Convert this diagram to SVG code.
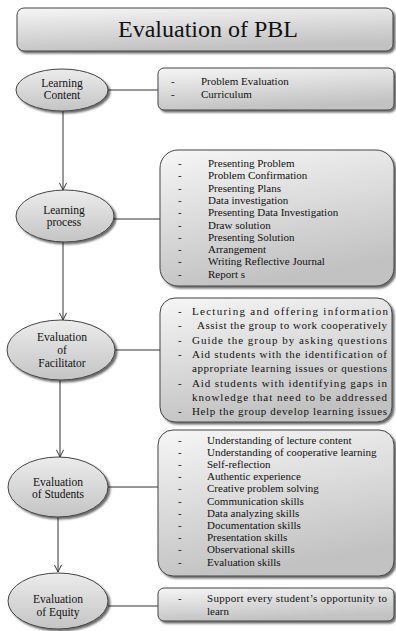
<svg xmlns="http://www.w3.org/2000/svg" width="396" height="631" viewBox="0 0 396 631">
<defs>
<linearGradient id="gb" x1="0" y1="0" x2="0.3" y2="1">
<stop offset="0" stop-color="#f6f6f6"/>
<stop offset="1" stop-color="#c2c2c2"/>
</linearGradient>
<linearGradient id="ge" x1="0" y1="0" x2="0" y2="1">
<stop offset="0" stop-color="#ececec"/>
<stop offset="1" stop-color="#c4c4c4"/>
</linearGradient>
<filter id="sh" x="-10%" y="-10%" width="125%" height="130%">
<feGaussianBlur in="SourceAlpha" stdDeviation="1.2"/>
<feOffset dx="2" dy="2" result="b"/>
<feComponentTransfer><feFuncA type="linear" slope="0.6"/></feComponentTransfer>
<feMerge><feMergeNode/><feMergeNode in="SourceGraphic"/></feMerge>
</filter>
<marker id="ar" viewBox="0 0 10 10" refX="9" refY="5" markerWidth="9" markerHeight="9" orient="auto" markerUnits="userSpaceOnUse">
<path d="M1,1 L9,5 L1,9" fill="none" stroke="#333" stroke-width="1.1"/>
</marker>
</defs>
<style>
.box{fill:url(#gb);stroke:#444;stroke-width:1;filter:url(#sh)}
.ell{fill:url(#ge);stroke:#444;stroke-width:1;filter:url(#sh)}
.t{font-family:"Liberation Serif","Times New Roman",serif;font-size:11px;fill:#111}
.e{font-size:11.5px}
.c{text-anchor:middle}
.ln{stroke:#333;stroke-width:1;fill:none}
</style>
<rect width="396" height="631" fill="#fff"/>

<g id="title">
<rect class="box" x="17" y="8" width="376" height="43" rx="7"/>
<text class="t c" x="208" y="37" style="font-size:24px">Evaluation of PBL</text>
</g>

<g id="connectors">
<line class="ln" x1="108" y1="90" x2="158" y2="90"/>
<line class="ln" x1="63" y1="111" x2="63" y2="190" marker-end="url(#ar)"/>
<line class="ln" x1="114" y1="219" x2="160" y2="219"/>
<line class="ln" x1="63" y1="242" x2="63" y2="320" marker-end="url(#ar)"/>
<line class="ln" x1="115" y1="350" x2="160" y2="350"/>
<line class="ln" x1="60" y1="380" x2="60" y2="457" marker-end="url(#ar)"/>
<line class="ln" x1="108" y1="487" x2="158" y2="487"/>
<line class="ln" x1="58" y1="517" x2="58" y2="572" marker-end="url(#ar)"/>
<line class="ln" x1="108" y1="606" x2="158" y2="606"/>
</g>

<g id="learning-content">
<ellipse class="ell" cx="62" cy="90" rx="46" ry="21"/>
<text class="t e c" x="62" y="87">Learning</text>
<text class="t e c" x="62" y="99">Content</text>
</g>
<g id="learning-content-items">
<rect class="box" x="158" y="68" width="236" height="42" rx="6"/>
<text class="t" x="171" y="85">-</text><text class="t" x="201" y="85">Problem Evaluation</text>
<text class="t" x="171" y="98">-</text><text class="t" x="201" y="98">Curriculum</text>
</g>

<g id="learning-process">
<ellipse class="ell" cx="65" cy="216" rx="49" ry="26"/>
<text class="t e c" x="64" y="214">Learning</text>
<text class="t e c" x="64" y="226">process</text>
</g>
<g id="learning-process-items">
<rect class="box" x="160" y="150" width="234" height="136" rx="18"/>
<g class="t">
<text x="178" y="167">-</text><text x="208" y="167">Presenting Problem</text>
<text x="178" y="179.3">-</text><text x="208" y="179.3">Problem Confirmation</text>
<text x="178" y="191.6">-</text><text x="208" y="191.6">Presenting Plans</text>
<text x="178" y="203.9">-</text><text x="208" y="203.9">Data investigation</text>
<text x="178" y="216.2">-</text><text x="208" y="216.2">Presenting Data Investigation</text>
<text x="178" y="228.5">-</text><text x="208" y="228.5">Draw solution</text>
<text x="178" y="240.8">-</text><text x="208" y="240.8">Presenting Solution</text>
<text x="178" y="253.1">-</text><text x="208" y="253.1">Arrangement</text>
<text x="178" y="265.4">-</text><text x="208" y="265.4">Writing Reflective Journal</text>
<text x="178" y="277.7">-</text><text x="208" y="277.7">Report s</text>
</g>
</g>

<g id="facilitator">
<ellipse class="ell" cx="61" cy="350" rx="54" ry="30"/>
<text class="t e c" x="62" y="341">Evaluation</text>
<text class="t e c" x="62" y="354">of</text>
<text class="t e c" x="62" y="367">Facilitator</text>
</g>
<g id="facilitator-items">
<rect class="box" x="160" y="298" width="232" height="124" rx="15"/>
<g class="t">
<text x="178" y="315">-</text><text x="192" y="315" textLength="196" lengthAdjust="spacing">Lecturing and offering information</text>
<text x="178" y="329.3">-</text><text x="197" y="329.3" textLength="190" lengthAdjust="spacing">Assist the group to work cooperatively</text>
<text x="178" y="343.6">-</text><text x="192" y="343.6" textLength="195" lengthAdjust="spacing">Guide the group by asking questions</text>
<text x="178" y="357.9">-</text><text x="192" y="357.9" textLength="195" lengthAdjust="spacing">Aid students with the identification of</text>
<text x="192" y="372.2" textLength="195" lengthAdjust="spacing">appropriate learning issues or questions</text>
<text x="178" y="386.5">-</text><text x="192" y="386.5" textLength="195" lengthAdjust="spacing">Aid students with identifying gaps in</text>
<text x="192" y="400.8" textLength="195" lengthAdjust="spacing">knowledge that need to be addressed</text>
<text x="178" y="415.1">-</text><text x="192" y="415.1" textLength="195" lengthAdjust="spacing">Help the group develop learning issues</text>
</g>
</g>

<g id="students">
<ellipse class="ell" cx="58" cy="487" rx="50" ry="30"/>
<text class="t e c" x="58" y="486">Evaluation</text>
<text class="t e c" x="58" y="498">of Students</text>
</g>
<g id="students-items">
<rect class="box" x="158" y="430" width="236" height="146" rx="15"/>
<g class="t">
<text x="178" y="443.5">-</text><text x="207" y="443.5">Understanding of  lecture content</text>
<text x="178" y="455.7">-</text><text x="207" y="455.7">Understanding of cooperative learning</text>
<text x="178" y="467.9">-</text><text x="207" y="467.9">Self-reflection</text>
<text x="178" y="480.1">-</text><text x="207" y="480.1">Authentic experience</text>
<text x="178" y="492.3">-</text><text x="207" y="492.3">Creative problem solving</text>
<text x="178" y="504.5">-</text><text x="207" y="504.5">Communication skills</text>
<text x="178" y="516.7">-</text><text x="207" y="516.7">Data analyzing skills</text>
<text x="178" y="528.9">-</text><text x="207" y="528.9">Documentation skills</text>
<text x="178" y="541.1">-</text><text x="207" y="541.1">Presentation skills</text>
<text x="178" y="553.3">-</text><text x="207" y="553.3">Observational skills</text>
<text x="178" y="565.5">-</text><text x="207" y="565.5">Evaluation skills</text>
</g>
</g>

<g id="equity">
<ellipse class="ell" cx="58" cy="601" rx="50" ry="28"/>
<text class="t e c" x="58" y="603">Evaluation</text>
<text class="t e c" x="58" y="616">of Equity</text>
</g>
<g id="equity-items">
<rect class="box" x="158" y="588" width="236" height="33" rx="6"/>
<text class="t" x="178" y="602">-</text><text class="t" x="207" y="602" textLength="180" lengthAdjust="spacing">Support every student’s opportunity to</text>
<text class="t" x="207" y="615">learn</text>
</g>
</svg>
